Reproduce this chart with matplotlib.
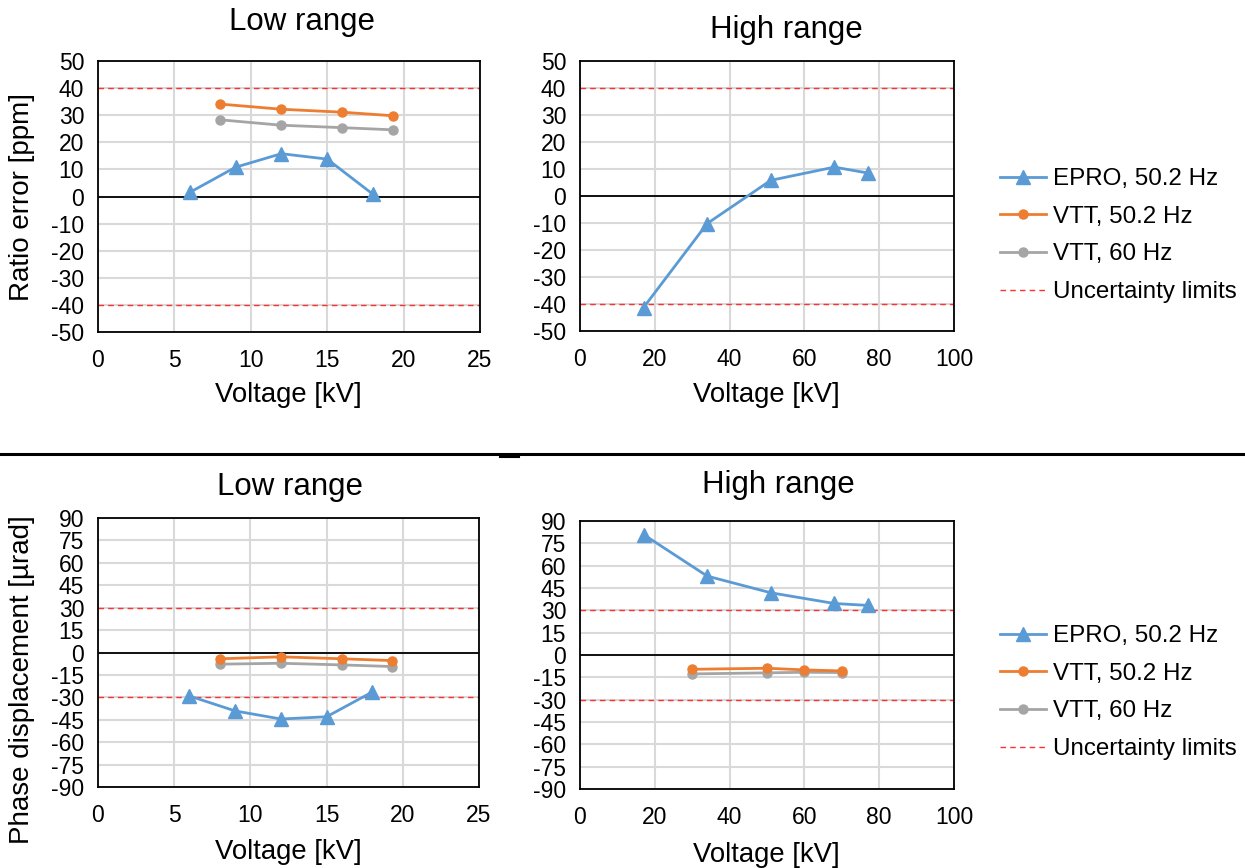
import matplotlib
matplotlib.use("Agg")
import matplotlib.pyplot as plt
from matplotlib.lines import Line2D

plt.rcParams['font.family'] = ['Liberation Sans', 'DejaVu Sans']
plt.rcParams['axes.unicode_minus'] = False

# ratio error [ppm]
lo_epro_kv = [6, 9, 12, 15, 18]
lo_epro_ratio = [1.5, 10.8, 15.8, 13.8, 0.8]
lo_vtt_kv = [8, 12, 16, 19.3]
lo_vtt50_ratio = [34.1, 32.2, 31.1, 29.8]
lo_vtt60_ratio = [28.3, 26.3, 25.4, 24.6]

hi_epro_kv = [17, 34, 51, 68, 77]
hi_epro_ratio = [-41.3, -10.2, 5.8, 10.7, 8.5]

# phase displacement [µrad]
lo_epro_phase = [-29.1, -39.1, -44.5, -43.0, -26.4]
lo_vtt50_phase = [-4.2, -2.9, -4.2, -5.4]
lo_vtt60_phase = [-7.8, -7.2, -8.3, -9.4]

hi_epro_phase = [80.9, 53.0, 41.8, 34.6, 33.3]
hi_vtt_kv = [30, 50, 60, 70]
hi_vtt50_phase = [-9.6, -8.9, -10.0, -10.7]
hi_vtt60_phase = [-12.7, -12.0, -11.6, -11.8]

ratio_limit = 40
phase_limit = 30

blue = '#5B9BD5'
orange = '#ED7D31'
grey = '#A5A5A5'
red = '#FF3030'

W, H = 1245, 868
fig = plt.figure(figsize=(12.45, 8.68), dpi=100)


def box(x0, y0, x1, y1):
    return [x0 / W, 1 - y1 / H, (x1 - x0) / W, (y1 - y0) / H]


def setup(ax, xmax, xstep, ylim, ystep, limit):
    ax.set_xlim(0, xmax)
    ax.set_ylim(-ylim, ylim)
    ax.set_xticks(range(0, xmax + 1, xstep))
    ax.set_yticks(range(-ylim, ylim + 1, ystep))
    ax.grid(True, color='#D9D9D9', linewidth=1.5)
    ax.set_axisbelow(True)
    ax.tick_params(length=0, labelsize=16.5)
    ax.tick_params(axis='y', pad=10)
    ax.tick_params(axis='x', pad=12)
    for s in ax.spines.values():
        s.set_linewidth(1.3)
    ax.axhline(0, color='black', linewidth=1.3, zorder=2)
    ax.axhline(limit, color=red, linewidth=1, linestyle=(0, (4, 3)), zorder=2)
    ax.axhline(-limit, color=red, linewidth=1, linestyle=(0, (4, 3)), zorder=2)


def epro(ax, x, y):
    ax.plot(x, y, color=blue, linewidth=2, marker='^', markersize=9.5, zorder=4)


def vtt(ax, x, y, c):
    ax.plot(x, y, color=c, linewidth=2, marker='o', markersize=6.5, zorder=3)


ax1 = fig.add_axes(box(98, 61, 480, 332))
setup(ax1, 25, 5, 50, 10, ratio_limit)
vtt(ax1, lo_vtt_kv, lo_vtt60_ratio, grey)
vtt(ax1, lo_vtt_kv, lo_vtt50_ratio, orange)
epro(ax1, lo_epro_kv, lo_epro_ratio)

ax2 = fig.add_axes(box(580, 61, 954, 331))
setup(ax2, 100, 20, 50, 10, ratio_limit)
epro(ax2, hi_epro_kv, hi_epro_ratio)

ax3 = fig.add_axes(box(98, 518, 479, 787))
setup(ax3, 25, 5, 90, 15, phase_limit)
vtt(ax3, lo_vtt_kv, lo_vtt60_phase, grey)
vtt(ax3, lo_vtt_kv, lo_vtt50_phase, orange)
epro(ax3, lo_epro_kv, lo_epro_phase)

ax4 = fig.add_axes(box(580, 521, 954, 789))
setup(ax4, 100, 20, 90, 15, phase_limit)
vtt(ax4, hi_vtt_kv, hi_vtt60_phase, grey)
vtt(ax4, hi_vtt_kv, hi_vtt50_phase, orange)
epro(ax4, hi_epro_kv, hi_epro_phase)

# titles and axis labels
def t(x, y, s, size, **kw):
    fig.text(x / W, 1 - y / H, s, fontsize=size, ha='center', va='center', **kw)

t(302, 22, 'Low range', 22.5)
t(786, 30, 'High range', 22.5)
t(290, 487, 'Low range', 22.5)
t(778, 485, 'High range', 22.5)
t(288, 395, 'Voltage [kV]', 19.8)
t(766, 395, 'Voltage [kV]', 19.8)
t(288, 852, 'Voltage [kV]', 19.8)
t(766, 855, 'Voltage [kV]', 19.8)
t(22, 197, 'Ratio error [ppm]', 20)
t(22, 680, 'Phase displacement [µrad]', 20)
for txt in fig.texts[-2:]:
    txt.set_rotation(90)

# separator between the two rows
fig.add_artist(Line2D([0, 1], [1 - 454 / H, 1 - 454 / H], color='black', linewidth=2.2))
fig.add_artist(Line2D([500 / W, 519 / W], [1 - 457 / H, 1 - 457 / H], color='black', linewidth=1.5))

handles = [
    Line2D([], [], color=blue, linewidth=2, marker='^', markersize=9.5),
    Line2D([], [], color=orange, linewidth=2, marker='o', markersize=6.5),
    Line2D([], [], color=grey, linewidth=2, marker='o', markersize=6.5),
    Line2D([], [], color=red, linewidth=1, linestyle=(0, (4, 3))),
]
labels = ['EPRO, 50.2 Hz', 'VTT, 50.2 Hz', 'VTT, 60 Hz', 'Uncertainty limits']
for ytop in (168, 625):
    fig.legend(handles, labels, loc='upper left', bbox_to_anchor=(1000 / W, 1 - ytop / H),
               frameon=False, fontsize=17.4, handlelength=1.9, handletextpad=0.3,
               labelspacing=0.65, borderaxespad=0, borderpad=0)

fig.savefig('out.png', dpi=100)
